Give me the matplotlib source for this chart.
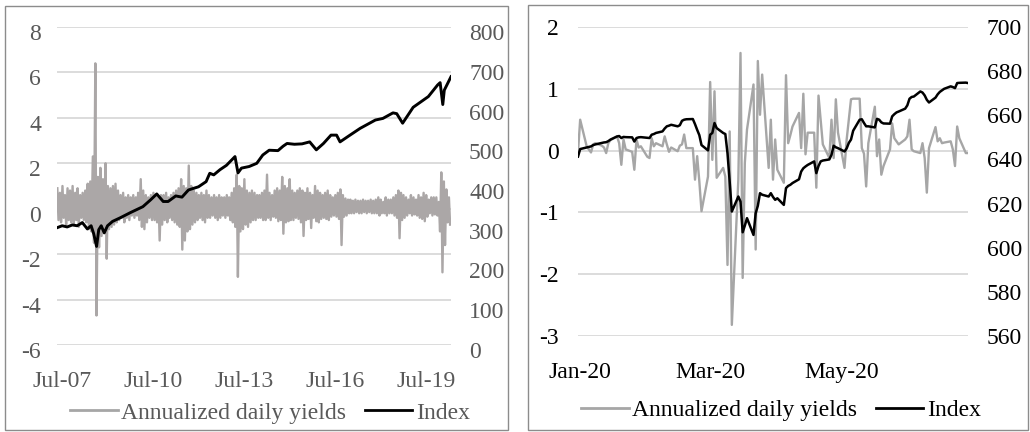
import matplotlib.pyplot as plt
import matplotlib.dates as mdates
import matplotlib.transforms as mtrans
from matplotlib.patches import Rectangle
from matplotlib.lines import Line2D
import numpy as np
import pandas as pd

plt.rcParams['font.family'] = ['Liberation Serif', 'DejaVu Serif']
plt.rcParams['axes.unicode_minus'] = False

# ---- long view, Jul-07 .. Jun-20: monthly high / low of the annualized daily yields
yield_hi = [0.9, 0.7, 1.0, 0.6, 0.9, 0.8,
            1.0, 0.7, 0.9, 0.6, 0.7, 0.8, 1.1, 1.2, 2.3, 6.4, 1.4, 1.8,
            1.3, 2.0, 1.0, 0.9, 1.0, 1.1, 0.8, 0.6, 0.7, 0.5, 0.6, 0.5,
            0.6, 0.5, 0.7, 1.3, 0.8, 0.6, 0.5, 0.6, 0.7, 0.6, 0.5, 0.6,
            0.6, 0.7, 0.5, 0.6, 0.7, 0.8, 0.9, 1.3, 1.0, 0.9, 1.9, 1.0,
            0.8, 0.7, 0.6, 0.7, 0.6, 0.8, 0.6, 0.5, 0.6, 0.5, 0.6, 0.5,
            0.5, 0.6, 0.5, 0.7, 0.9, 1.5, 1.0, 0.9, 1.3, 0.8, 0.7, 0.8,
            0.7, 0.6, 0.6, 0.7, 0.8, 1.5, 0.7, 0.6, 0.8, 0.9, 0.8, 1.4,
            1.0, 0.9, 1.3, 0.8, 0.7, 0.8, 0.9, 0.8, 0.7, 0.9, 0.7, 0.6,
            1.0, 0.8, 0.7, 0.6, 0.7, 0.8, 0.6, 0.5, 0.6, 0.7, 0.85, 0.6,
            0.45, 0.4, 0.4, 0.35, 0.4, 0.35, 0.35, 0.4, 0.35, 0.35, 0.4, 0.35,
            0.4, 0.5, 0.4, 0.3, 0.5, 0.4, 0.4, 0.5, 0.6, 0.8, 0.7, 0.6,
            0.5, 0.4, 0.6, 0.5, 0.4, 0.6, 0.5, 0.7, 0.6, 0.4, 0.5, 0.5,
            0.5, 0.3, 1.6, 1.2, 0.85, 0.5]
yield_lo = [-0.5, -0.6, -0.4, -0.7, -0.5, -0.6,
            -0.7, -0.5, -0.8, -0.4, -0.5, -0.6, -0.9, -1.0, -1.5, -4.7, -1.7, -1.2,
            -1.0, -2.2, -0.9, -0.8, -0.7, -0.6, -0.5, -0.4, -0.6, -0.4, -0.5, -0.3,
            -0.4, -0.3, -0.5, -0.8, -0.9, -0.6, -0.4, -0.5, -0.5, -0.6, -1.4, -0.7,
            -0.5, -0.6, -0.4, -0.5, -0.6, -0.7, -0.8, -1.8, -1.4, -1.0, -0.9, -0.7,
            -0.6, -0.5, -0.4, -0.5, -0.6, -0.4, -0.4, -0.3, -0.4, -0.5, -0.4, -0.3,
            -0.4, -0.3, -0.5, -0.6, -0.8, -3.0, -1.0, -0.9, -0.7, -0.8, -0.6, -0.5,
            -0.5, -0.4, -0.4, -0.5, -0.5, -0.4, -0.5, -0.35, -0.4, -0.55, -0.5, -1.1,
            -0.6, -0.55, -0.5, -0.5, -0.4, -0.45, -0.6, -1.2, -0.5, -0.45, -0.85, -0.4,
            -0.55, -0.6, -0.45, -0.4, -0.45, -0.5, -0.35, -0.3, -0.35, -0.45, -1.6, -0.35,
            -0.3, -0.2, -0.2, -0.2, -0.15, -0.2, -0.2, -0.15, -0.2, -0.15, -0.2, -0.2,
            -0.2, -0.3, -0.2, -0.2, -0.3, -0.2, -0.2, -0.3, -0.4, -1.3, -0.5, -0.4,
            -0.3, -0.2, -0.3, -0.25, -0.3, -0.4, -0.45, -0.55, -0.35, -0.2, -0.3, -0.25,
            -0.3, -1.0, -2.8, -1.6, -0.6, -0.7]
months = pd.date_range('2007-07-01', periods=len(yield_hi), freq='MS')

index_dates = ['2007-07-01', '2007-09-01', '2007-11-01', '2008-01-01', '2008-03-01',
               '2008-05-01', '2008-07-01', '2008-08-15', '2008-09-15', '2008-10-20',
               '2008-11-15', '2008-12-15', '2009-01-20', '2009-03-01', '2009-05-01',
               '2009-08-01', '2009-12-01', '2010-05-01', '2010-08-01', '2010-10-15',
               '2011-01-01', '2011-03-01', '2011-06-01', '2011-08-15', '2011-11-01',
               '2012-03-01', '2012-06-01', '2012-07-15', '2012-09-01', '2012-11-15',
               '2013-02-01', '2013-05-15', '2013-06-20', '2013-08-01', '2013-11-01',
               '2014-02-01', '2014-04-15', '2014-07-01', '2014-10-15', '2014-12-15',
               '2015-02-01', '2015-05-01', '2015-08-01', '2015-11-01', '2016-01-20',
               '2016-04-15', '2016-07-15', '2016-09-20', '2016-11-01', '2017-03-01',
               '2017-07-01', '2018-01-01', '2018-04-01', '2018-08-01', '2018-09-15',
               '2018-11-25', '2019-04-01', '2019-08-01', '2019-10-01', '2020-01-20',
               '2020-02-20', '2020-03-23', '2020-04-10', '2020-06-30']
index_vals = [295, 300, 297, 302, 300, 308, 292, 300, 280, 248,
              290, 300, 282, 300, 311, 320, 333, 348, 365, 380,
              361, 361, 375, 372, 390, 398, 411, 432, 428, 441,
              452, 474, 433, 445, 449, 457, 478, 490, 489, 500,
              507, 505, 506, 511, 491, 507, 528, 528, 511, 528,
              545, 566, 570, 584, 582, 558, 598, 616, 625, 654,
              660, 605, 641, 675]

# ---- zoom, Jan-20 .. Jun-20, one value per trading day
days_2020 = pd.bdate_range('2020-01-02', '2020-06-30')
yield_2020 = [-0.03, 0.50, 0.07, 0.02, -0.03, 0.10, 0.12, 0.08, 0.05, -0.04, 0.12,
              0.17, 0.23, 0.12, -0.23, 0.18, 0.02, -0.02, -0.31, 0.18, 0.05, 0.07,
              -0.10, -0.12, 0.20, 0.07, 0.12, 0.07, 0.23, 0.10, -0.02, 0.05,
              -0.01, 0.08, 0.10, 0.26, 0.04, 0.04, -0.47, -0.09, -0.50, -0.98,
              -0.42, 1.11, -0.15, 0.96, -0.44, -0.28, -0.42, -1.85, 0.31, -2.82, -0.47,
              1.58, -2.06, -0.20, 0.34, 1.07, -1.60, 1.45, 0.58, 1.23, -0.28, 0.50,
              -0.47, 0.18, -0.31, -0.52, 1.22, 0.12, 0.25, 0.39, 0.61, 0.04, 0.92,
              -0.06, 0.29, 0.29, -0.60, 0.89, 0.50, 0.10, -0.12, 0.50, -0.12, 0.83,
              0.29, -0.28, 0.18, 0.50, 0.83, 0.84, 0.84, 0.04, -0.05, -0.58, 0.12,
              0.71, -0.09, 0.18, -0.39, -0.25, 0.02, 0.44, 0.20, 0.15, 0.10,
              0.18, 0.23, 0.50, 0.02, -0.01, -0.04, 0.12, -0.12, -0.68, 0.04, 0.38,
              0.15, 0.20, 0.12, 0.13, 0.15, 0.02, -0.25, 0.39, 0.20, -0.04, -0.04]
index_2020 = [641.3, 644.7, 645.4, 645.6, 645.9, 646.5, 646.8, 647.5, 647.7, 647.8, 648.3,
              649.0, 650.4, 650.6, 649.7, 650.2, 650.1, 650.0, 648.1, 649.7, 650.0, 650.1,
              649.8, 649.7, 651.2, 651.5, 652.0, 652.7, 654.0, 655.0, 655.3, 655.7,
              655.0, 655.5, 657.5, 658.0, 658.2, 658.3, 656.0, 653.4, 651.0, 646.5,
              644.1, 651.2, 652.0, 656.5, 654.2, 652.0, 651.5, 642.8, 630.0, 616.4, 623.2,
              620.9, 607.0, 610.0, 613.4, 605.8, 615.6, 619.0, 624.7, 624.0, 623.2, 624.7,
              623.0, 621.7, 622.4, 619.4, 627.0, 628.0, 628.5, 629.3, 631.0, 634.5, 636.0,
              636.8, 637.5, 639.1, 633.8, 637.0, 639.1, 639.5, 640.0, 642.1, 646.2, 645.5,
              645.1, 643.6, 645.0, 647.5, 649.0, 653.0, 658.0, 658.2, 656.5, 655.0, 655.0,
              654.5, 658.4, 658.0, 656.8, 656.3, 656.2, 659.5, 660.5, 661.3, 661.7,
              663.0, 664.5, 667.5, 668.3, 668.5, 670.8, 670.3, 669.0, 667.0, 665.8, 668.0,
              669.5, 670.6, 671.3, 672.0, 673.1, 672.8, 672.3, 674.6, 674.7, 674.8, 674.6]

GRAY = '#a6a6a6'
GRID = '#d9d9d9'
FS = 17

fig = plt.figure(figsize=(10.3, 4.32), dpi=100)


def shift(labels, dx, dy):
    off = mtrans.ScaledTranslation(dx / 100, dy / 100, fig.dpi_scale_trans)
    for lab in labels:
        lab.set_transform(lab.get_transform() + off)


def style(ax, color):
    for s in ax.spines.values():
        s.set_visible(False)
    ax.tick_params(length=0, labelsize=FS, labelcolor=color)


# chart borders
fig.add_artist(Rectangle((5 / 1030, 2 / 432), 503 / 1030, 424 / 432, transform=fig.transFigure,
                         fill=False, edgecolor='#8c8c8c', lw=1))
fig.add_artist(Rectangle((528 / 1030, 2 / 432), 500 / 1030, 425 / 432, transform=fig.transFigure,
                         fill=False, edgecolor='#8c8c8c', lw=1))

# ---- left panel
ax1 = fig.add_axes([57 / 1030, 1 - 345 / 432, 394 / 1030, 318 / 432])
yx = np.empty(2 * len(months), dtype='datetime64[ns]')
yx[0::2] = (months + pd.Timedelta(days=4)).values
yx[1::2] = (months + pd.Timedelta(days=18)).values
yy = np.empty(2 * len(months))
yy[0::2] = yield_hi
yy[1::2] = yield_lo
ax1.plot(yx, yy, color='#aba7a7', lw=1.7)
ax1.set_ylim(-6, 8)
ax1.set_yticks(range(-6, 9, 2))
ax1.yaxis.grid(True, color=GRID, lw=1.3)
ax1.set_axisbelow(True)
ax1.set_xlim(pd.Timestamp('2007-07-01'), pd.Timestamp('2020-06-30'))
ax1.set_xticks([pd.Timestamp(f'{y}-07-01') for y in (2007, 2010, 2013, 2016, 2019)])
ax1.xaxis.set_major_formatter(mdates.DateFormatter('%b-%y'))
style(ax1, '#595959')
ax1.tick_params(axis='y', pad=11.5)
ax1.tick_params(axis='x', pad=18.5)

ax1r = ax1.twinx()
ax1r.plot(pd.to_datetime(index_dates), index_vals, color='black', lw=2.1)
ax1r.set_ylim(0, 800)
ax1r.set_yticks(range(0, 801, 100))
style(ax1r, '#595959')
ax1r.tick_params(axis='y', pad=13)
shift(ax1.get_yticklabels(), 0, -5)
shift(ax1r.get_yticklabels(), 0, -5)
shift(ax1.get_xticklabels(), 5, 0)

h = [Line2D([], [], color=GRAY, lw=2), Line2D([], [], color='black', lw=2)]
fig.legend(h, ['Annualized daily yields', 'Index'], loc='center', bbox_to_anchor=(270 / 1030, 1 - 413 / 432),
           ncol=2, frameon=False, fontsize=FS, handlelength=2.0, handletextpad=0.15,
           columnspacing=0.8, labelcolor='#595959')

# ---- right panel
ax2 = fig.add_axes([578 / 1030, 1 - 336 / 432, 390 / 1030, 309 / 432])
ax2.plot(days_2020, yield_2020, color=GRAY, lw=1.7)
ax2.set_ylim(-3, 2)
ax2.set_yticks(range(-3, 3))
ax2.yaxis.grid(True, color=GRID, lw=1.3)
ax2.set_axisbelow(True)
ax2.set_xlim(pd.Timestamp('2020-01-02'), pd.Timestamp('2020-06-30'))
ax2.set_xticks([pd.Timestamp('2020-01-02'), pd.Timestamp('2020-03-02'), pd.Timestamp('2020-05-02')])
ax2.xaxis.set_major_formatter(mdates.DateFormatter('%b-%y'))
style(ax2, 'black')
ax2.tick_params(axis='y', pad=14)
ax2.tick_params(axis='x', pad=18.5)

ax2r = ax2.twinx()
ax2r.plot(days_2020, index_2020, color='black', lw=1.8)
ax2r.set_ylim(560, 700)
ax2r.set_yticks(range(560, 701, 20))
style(ax2r, 'black')
ax2r.tick_params(axis='y', pad=13.5)
shift(ax2.get_xticklabels(), 2, 0)

h2 = [Line2D([], [], color=GRAY, lw=2), Line2D([], [], color='black', lw=2)]
fig.legend(h2, ['Annualized daily yields', 'Index'], loc='center', bbox_to_anchor=(781 / 1030, 1 - 410 / 432),
           ncol=2, frameon=False, fontsize=FS, handlelength=2.0, handletextpad=0.15,
           columnspacing=0.8, labelcolor='black')

fig.savefig('out.png', dpi=100)
